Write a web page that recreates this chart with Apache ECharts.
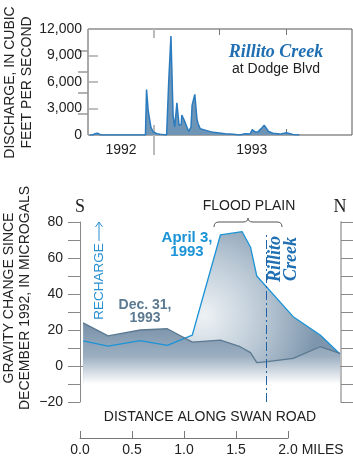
<!DOCTYPE html>
<html>
<head>
<meta charset="utf-8">
<title></title>
<script src="https://cdn.jsdelivr.net/npm/echarts@6/dist/echarts.min.js"></script>
<style>
  html, body { margin: 0; padding: 0; background: #fff; }
  #main { width: 353px; height: 460px; }
</style>
</head>
<body>
<div id="main"></div>
<script type="text/javascript">
// discharge, Rillito Creek at Dodge Blvd (day = days since 1 Sep 1992)
var dischargeDay = [3, 9, 13, 17, 20, 24, 106, 108, 110, 111, 114, 116, 120, 127, 133, 145,
  148, 149, 151, 153, 155, 157, 160, 164, 167, 168, 172, 173, 176, 178, 181, 183, 186, 190,
  192, 194, 197, 199, 201, 203, 207, 216, 231, 253, 268, 280, 290, 299, 303, 308, 314, 320,
  325, 328, 333, 341, 354, 366, 378, 390];
var dischargeCfs = [0, 0, 150, 200, 120, 0, 0, 5150, 5100, 2800, 2700, 900, 370, 150, 80, 0,
  0, 6200, 6300, 11200, 11200, 2200, 900, 3650, 3600, 1100, 1200, 2250, 2200, 1600, 1500, 800, 400, 900,
  3350, 3500, 4600, 4550, 1800, 1300, 700, 550, 300, 150, 80, 0, 150, 100, 600, 350, 380, 750,
  1100, 1000, 400, 200, 100, 250, 60, 0];
var yearLabelDay = [61, 302];
var yearLabel = ['1992', '1993'];
var newYearDay = 122;
var lastDay = 487;
var quarterTickDay = [242, 365];

// gravity change along Swan Road, microgals
var aprilMiles = [0.03, 0.27, 0.58, 0.84, 1.08, 1.35, 1.56, 1.64, 1.70, 2.05, 2.31, 2.50];
var aprilGal = [14, 11.1, 14.1, 11.5, 17.2, 72.8, 74.6, 66, 50, 27.4, 17.2, 6.7];
var decMiles = [0.03, 0.27, 0.58, 0.84, 1.08, 1.35, 1.54, 1.64, 1.70, 1.80, 2.05, 2.31, 2.50];
var decGal = [24, 16.7, 20, 20.7, 13.3, 14.4, 10.7, 7.4, 1.9, 2.4, 4.2, 10.7, 7];
var creekMile = 1.79;

var sans = 'Liberation Sans';
var serif = 'Liberation Serif';

function pairs(xs, ys) {
  return xs.map(function (x, i) { return [x, ys[i]]; });
}

// an axis that only draws some ticks
function tickAxis(grid, pos, values, len, color, width) {
  return {
    type: 'value', gridIndex: grid, position: pos, min: 0, max: lastDay,
    axisLine: { show: false }, axisLabel: { show: false }, splitLine: { show: false },
    axisTick: { show: true, inside: len > 0, length: Math.abs(len), customValues: values,
      lineStyle: { color: color, width: width } }
  };
}

// one piece of the flood plain brace
function braceCurve(x1, y1, cx, cy, x2, y2) {
  return { type: 'bezierCurve', shape: { x1: x1, y1: y1, cpx1: cx, cpy1: cy, x2: x2, y2: y2 },
    style: { stroke: '#555', lineWidth: 1, fill: 'none' } };
}
function braceLine(x1, x2, y) {
  return { type: 'line', shape: { x1: x1, y1: y, x2: x2, y2: y }, style: { stroke: '#555', lineWidth: 1 } };
}

var myChart = echarts.init(document.getElementById('main'));

var option = {
  animation: false,
  grid: [
    { left: 88, top: 29, width: 264, height: 106, show: true, borderColor: '#555', borderWidth: 1 },
    { left: 80, top: 222, width: 261, height: 180 },
    { left: 80, top: 437, width: 208, height: 1 }
  ],
  xAxis: [
    {
      type: 'value', gridIndex: 0, min: 0, max: lastDay,
      axisLine: { show: false }, splitLine: { show: false },
      axisTick: { show: true, length: 20, customValues: [newYearDay], lineStyle: { color: '#bbb', width: 2 } },
      axisLabel: {
        customValues: yearLabelDay, margin: 8, fontSize: 14, fontFamily: sans, color: '#222',
        formatter: function (v) { return yearLabel[yearLabelDay.indexOf(v)]; }
      }
    },
    tickAxis(0, 'bottom', [newYearDay], 10, '#bbb', 2),
    tickAxis(0, 'bottom', [365], 6, '#777', 1),
    tickAxis(0, 'top', [newYearDay], 9, '#bbb', 2),
    tickAxis(0, 'top', quarterTickDay, 6, '#777', 1),
    {
      type: 'value', gridIndex: 1, min: 0, max: 2.51,
      axisLine: { show: true, lineStyle: { color: '#888', width: 1 } },
      axisTick: { show: false }, axisLabel: { show: false }, splitLine: { show: false }
    },
    {
      type: 'value', gridIndex: 2, min: 0, max: 2, interval: 0.5,
      axisLine: { show: true, lineStyle: { color: '#777', width: 1 } },
      axisTick: { show: true, inside: true, length: 7, lineStyle: { color: '#777' } },
      splitLine: { show: false },
      axisLabel: {
        margin: 5, fontSize: 14, fontFamily: sans, color: '#222',
        formatter: function (v) { return v === 2 ? '{m|2.0 MILES}' : v.toFixed(1); },
        rich: { m: { padding: [0, 0, 0, 46], fontSize: 14, fontFamily: sans, color: '#222' } }
      }
    }
  ],
  yAxis: [
    {
      type: 'value', gridIndex: 0, min: 0, max: 12000, interval: 3000,
      axisLine: { show: false }, splitLine: { show: false },
      axisTick: { show: true, inside: true, length: 10, lineStyle: { color: '#aaa', width: 1.5 } },
      axisLabel: {
        margin: 6, fontSize: 14, fontFamily: sans, color: '#222',
        formatter: function (v) { return v.toLocaleString('en-US'); }
      }
    },
    {
      type: 'value', gridIndex: 0, position: 'right', min: 0, max: 5.05, interval: 1,
      axisLine: { show: false }, splitLine: { show: false }, axisLabel: { show: false },
      axisTick: { show: true, inside: true, length: 10, customValues: [1, 2, 3, 4], lineStyle: { color: '#999', width: 1.5 } }
    },
    {
      type: 'value', gridIndex: 1, min: -20, max: 80, interval: 10,
      axisLine: { show: true, lineStyle: { color: '#888', width: 1 } },
      axisTick: { show: true, length: 12, lineStyle: { color: '#888' } },
      splitLine: { show: false },
      axisLabel: {
        margin: 17, fontSize: 14, fontFamily: sans, color: '#222',
        formatter: function (v) { return v % 20 !== 0 ? '' : (v < 0 ? '\u2212' + (-v) : '' + v); }
      }
    },
    {
      type: 'value', gridIndex: 1, position: 'right', min: -20, max: 80, interval: 10,
      axisLine: { show: true, lineStyle: { color: '#bbb', width: 2 } },
      axisTick: { show: true, length: 12, lineStyle: { color: '#888' } },
      splitLine: { show: false }, axisLabel: { show: false }
    },
    { type: 'value', gridIndex: 2, min: 0, max: 1, show: false }
  ],
  series: [
    {
      name: 'discharge', type: 'line', xAxisIndex: 0, yAxisIndex: 0,
      data: pairs(dischargeDay, dischargeCfs), showSymbol: false,
      lineStyle: { color: '#2b7bbf', width: 1.5 },
      areaStyle: { color: '#6f95b6', opacity: 1 }
    },
    {
      name: 'april area', type: 'line', xAxisIndex: 5, yAxisIndex: 2,
      data: pairs(aprilMiles, aprilGal), showSymbol: false,
      lineStyle: { width: 0 },
      areaStyle: {
        origin: -10, opacity: 1,
        color: { type: 'radial', x: 0.47, y: 0.55, r: 0.75, colorStops: [
          { offset: 0, color: '#eef2f5' }, { offset: 0.5, color: '#bccad6' }, { offset: 1, color: '#7d96ad' }
        ] }
      }
    },
    {
      name: 'dec area', type: 'line', xAxisIndex: 5, yAxisIndex: 2,
      data: pairs(decMiles, decGal), showSymbol: false,
      lineStyle: { width: 0 },
      areaStyle: {
        origin: -10, opacity: 1,
        color: { type: 'linear', x: 0, y: 0, x2: 0, y2: 1, colorStops: [
          { offset: 0, color: '#7890a8' }, { offset: 0.55, color: '#9cafc1' }, { offset: 1, color: '#ffffff' }
        ] }
      }
    },
    {
      name: 'April 3, 1993', type: 'line', xAxisIndex: 5, yAxisIndex: 2,
      data: pairs(aprilMiles, aprilGal), showSymbol: false,
      lineStyle: { color: '#1b93d6', width: 1.3 },
      markLine: {
        silent: true, symbol: 'none', label: { show: false },
        lineStyle: { type: [9, 3, 2, 3], color: '#1f63a6', width: 1 },
        data: [[{ coord: [creekMile, -20] }, { coord: [creekMile, 73] }]]
      }
    },
    {
      name: 'Dec. 31, 1993', type: 'line', xAxisIndex: 5, yAxisIndex: 2,
      data: pairs(decMiles, decGal), showSymbol: false,
      lineStyle: { color: '#5b7a92', width: 1.3 }
    }
  ],
  graphic: [
    { type: 'text', x: 18.5, y: 82.5, rotation: Math.PI / 2,
      style: { text: 'DISCHARGE, IN CUBIC\nFEET PER SECOND', align: 'center', verticalAlign: 'middle',
        lineHeight: 17, font: '14px ' + sans, fill: '#222' } },
    { type: 'text', x: 276, y: 52,
      style: { text: 'Rillito Creek', align: 'center', verticalAlign: 'middle',
        font: 'italic bold 18px ' + serif, fill: '#1f6fb2' } },
    { type: 'text', x: 276, y: 69,
      style: { text: 'at Dodge Blvd', align: 'center', verticalAlign: 'middle',
        font: '14px ' + sans, fill: '#222' } },
    { type: 'text', x: 17.5, y: 298, rotation: Math.PI / 2,
      style: { text: 'GRAVITY CHANGE SINCE\nDECEMBER 1992, IN MICROGALS', align: 'center', verticalAlign: 'middle',
        lineHeight: 16, font: '14px ' + sans, fill: '#222' } },
    { type: 'text', x: 80, y: 207,
      style: { text: 'S', align: 'center', verticalAlign: 'middle', font: '18px ' + serif, fill: '#222' } },
    { type: 'text', x: 340, y: 207,
      style: { text: 'N', align: 'center', verticalAlign: 'middle', font: '18px ' + serif, fill: '#222' } },
    { type: 'text', x: 249, y: 206,
      style: { text: 'FLOOD PLAIN', align: 'center', verticalAlign: 'middle', font: '14px ' + sans, fill: '#222' } },
    braceCurve(214, 227, 214, 222, 219, 222),
    braceLine(219, 243, 222),
    braceCurve(243, 222, 248, 222, 248, 218),
    braceCurve(248, 218, 248, 222, 253, 222),
    braceLine(253, 277, 222),
    braceCurve(277, 222, 282, 222, 282, 227),
    { type: 'text', x: 187, y: 245,
      style: { text: 'April 3,\n1993', align: 'center', verticalAlign: 'middle', lineHeight: 14,
        font: 'bold 15px ' + sans, fill: '#1b93d6' } },
    { type: 'text', x: 145, y: 311.5,
      style: { text: 'Dec. 31,\n1993', align: 'center', verticalAlign: 'middle', lineHeight: 13,
        font: 'bold 14px ' + sans, fill: '#5b7a92' } },
    { type: 'text', x: 99, y: 281.5, rotation: Math.PI / 2,
      style: { text: 'RECHARGE', align: 'center', verticalAlign: 'middle', font: '13.5px ' + sans, fill: '#2a90d0' } },
    { type: 'line', shape: { x1: 99, y1: 241, x2: 99, y2: 222 }, style: { stroke: '#2a90d0', lineWidth: 1 } },
    { type: 'polyline', shape: { points: [[95.5, 227], [99, 222], [102.5, 227]] },
      style: { stroke: '#2a90d0', lineWidth: 1, fill: 'none' } },
    { type: 'text', x: 283, y: 259, rotation: Math.PI / 2,
      style: { text: 'Rillito\nCreek', align: 'center', verticalAlign: 'middle', lineHeight: 16,
        font: 'italic bold 18px ' + serif, fill: '#1f6fb2' } },
    { type: 'text', x: 210, y: 417,
      style: { text: 'DISTANCE ALONG SWAN ROAD', align: 'center', verticalAlign: 'middle',
        font: '14px ' + sans, fill: '#222' } }
  ]
};

myChart.setOption(option);
</script>
</body>
</html>
